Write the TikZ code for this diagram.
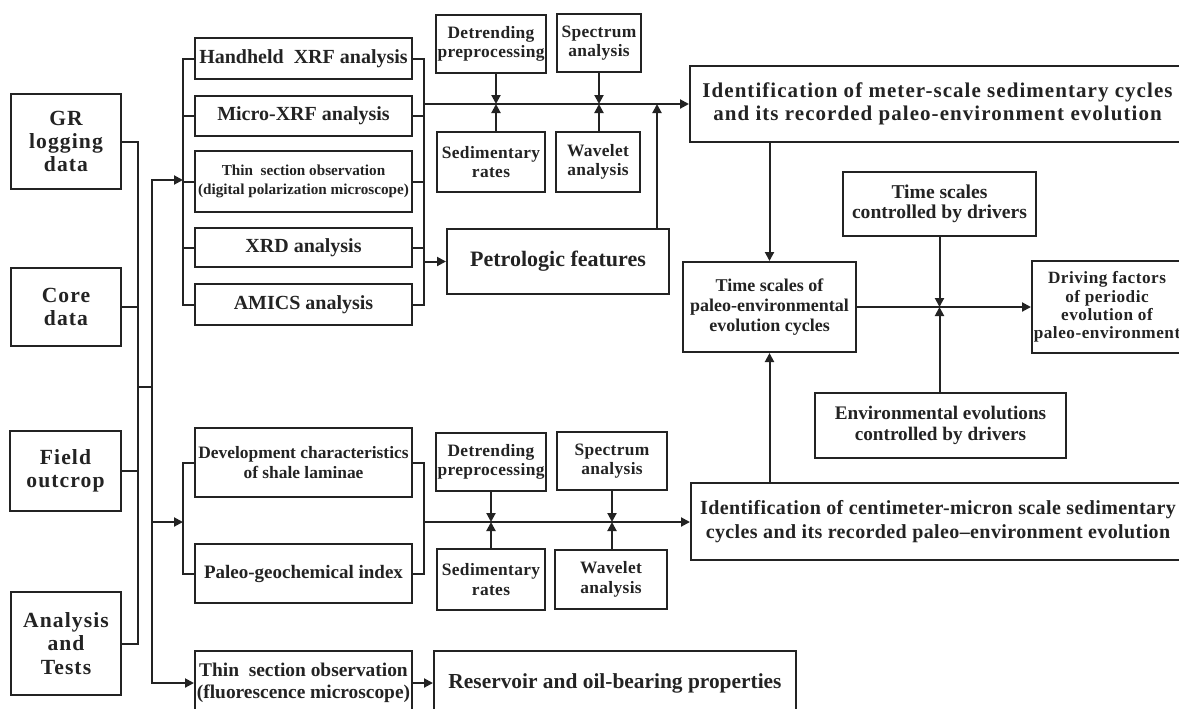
\documentclass[tikz,border=0pt]{standalone}
\usepackage{fontspec}
\setmainfont{Liberation Serif}
\usetikzlibrary{arrows.meta,calc}
\definecolor{ink}{RGB}{35,35,35}
\newcommand\mybox[7][]{\node[box,#1,minimum width={(#5-#3)*0.5pt},minimum height={(#6-#4)*0.5pt}] (#2) at ({(#3+#5)/2},{(#4+#6)/2}) {#7};}
\tikzset{
  box/.style={draw=ink,text=ink,line width=1pt,inner sep=0pt,align=center,font=\bfseries\fontsize{10}{12}\selectfont},
  fleft/.style={font=\bfseries\fontsize{10.8}{11.7}\selectfont\addfontfeatures{LetterSpace=5}},
  fsmall/.style={font=\bfseries\fontsize{8.7}{9.7}\selectfont\addfontfeatures{LetterSpace=2}},
  fid/.style={font=\bfseries\fontsize{10.5}{11.7}\selectfont\addfontfeatures{LetterSpace=5}},
  fidb/.style={font=\bfseries\fontsize{10}{11.7}\selectfont\addfontfeatures{LetterSpace=2}},
  ln/.style={draw=ink,line width=1pt},
  arr/.style={ln,-{Triangle[length=4.5pt,width=4.5pt]}},
}
\begin{document}
\begin{tikzpicture}[x=0.5pt,y=-0.5pt]
\useasboundingbox (0,0) rectangle (1179,708);
\clip (0,0) rectangle (1179,708);
% left sources
\mybox[fleft]{gr}{11}{94}{121}{189}{GR\\logging\\data}
\mybox[fleft]{core}{11}{268}{121}{346}{Core\\data}
\mybox[fleft]{field}{10}{431}{121}{511}{Field\\outcrop}
\mybox[fleft]{anal}{11}{592}{121}{695}{Analysis\\and\\Tests}
% top group
\mybox{hand}{195}{38}{412}{79}{Handheld\ \ XRF analysis}
\mybox{micro}{195}{96}{412}{136}{Micro-XRF analysis}
\mybox[font=\bfseries\fontsize{7.6}{9.8}\selectfont]{thin}{195}{151}{412}{212}{Thin\ \ section observation\\(digital polarization microscope)}
\mybox{xrd}{195}{228}{412}{267}{XRD analysis}
\mybox{amics}{195}{284}{412}{325}{AMICS analysis}
\mybox[fsmall]{det1}{436}{15}{546}{73}{Detrending\\preprocessing}
\mybox[fsmall]{spec1}{557}{14}{641}{72}{Spectrum\\analysis}
\mybox[fsmall]{sed1}{437}{132}{545}{192}{Sedimentary\\rates}
\mybox[fsmall]{wav1}{556}{132}{640}{192}{Wavelet\\analysis}
\mybox[font=\bfseries\fontsize{11}{13}\selectfont]{petro}{447}{229}{669}{294}{Petrologic features}
\mybox[fid]{id1}{690}{66}{1185}{142}{Identification of meter-scale sedimentary cycles\\and its recorded paleo-environment evolution}
% right part
\mybox[font=\bfseries\fontsize{9}{10}\selectfont]{ts}{683}{262}{856}{352}{Time scales of\\paleo-environmental\\evolution cycles}
\mybox[font=\bfseries\fontsize{9.8}{10.3}\selectfont]{tsd}{843}{172}{1036}{236}{Time scales\\controlled by drivers}
\mybox[font=\bfseries\fontsize{8.6}{9.2}\selectfont\addfontfeatures{LetterSpace=3}]{drive}{1032}{261}{1182}{353}{Driving factors\\of periodic\\evolution of\\paleo-environment}
\mybox[font=\bfseries\fontsize{9.6}{10.5}\selectfont]{env}{815}{393}{1066}{458}{Environmental evolutions\\controlled by drivers}
% bottom group
\mybox[font=\bfseries\fontsize{8.7}{10}\selectfont]{dev}{195}{428}{412}{497}{Development characteristics\\of shale laminae}
\mybox[font=\bfseries\fontsize{9.5}{11}\selectfont]{paleo}{195}{544}{412}{603}{Paleo-geochemical index}
\mybox[fsmall]{det2}{436}{433}{546}{491}{Detrending\\preprocessing}
\mybox[fsmall]{spec2}{557}{432}{667}{490}{Spectrum\\analysis}
\mybox[fsmall]{sed2}{437}{549}{545}{610}{Sedimentary\\rates}
\mybox[fsmall]{wav2}{555}{550}{667}{609}{Wavelet\\analysis}
\mybox[fidb]{id2}{691}{483}{1185}{560}{Identification of centimeter-micron scale sedimentary\\cycles and its recorded paleo–environment evolution}
\mybox[font=\bfseries\fontsize{9.7}{10.8}\selectfont]{fluor}{195}{651}{412}{715}{Thin\ \ section observation\\(fluorescence microscope)}
\mybox[font=\bfseries\fontsize{10.7}{12}\selectfont]{res}{434}{651}{796}{715}{Reservoir and oil-bearing properties}
% trunk
\coordinate (t1) at (138,387);
\coordinate (t2) at (152,387);
\coordinate (b1) at (183,180);
\coordinate (b2) at (183,522);
\coordinate (r1) at (424,104);
\coordinate (r2) at (424,522);
\draw[ln] (gr.east) -| (t1);
\draw[ln] (core.east) -| (t1);
\draw[ln] (field.east) -| (t1);
\draw[ln] (anal.east) -| (t1);
\draw[ln] (t1) -- (t2);
\draw[arr] (t2) |- (b1);
\draw[arr] (t2) |- (b2);
\draw[arr] (t2) |- (fluor.west);
% top brackets
\draw[ln] (hand.west) -| (b1);
\draw[ln] (amics.west) -| (b1);
\draw[ln] (micro.west) -- (micro.west -| b1);
\draw[ln] (thin.west) -- (thin.west -| b1);
\draw[ln] (xrd.west) -- (xrd.west -| b1);
\draw[ln] (hand.east) -| (r1);
\draw[ln] (amics.east) -| (r1);
\draw[ln] (micro.east) -- (micro.east -| r1);
\draw[ln] (thin.east) -- (thin.east -| r1);
\draw[ln] (xrd.east) -- (xrd.east -| r1);
\draw[arr] (r1) -- (id1.west);
\draw[arr] (petro.west -| r1) -- (petro.west);
\draw[arr] ([xshift=2.5pt]det1.south) -- ([xshift=2.5pt]det1.south |- r1);
\draw[arr] ([xshift=2.5pt]sed1.north) -- ([xshift=2.5pt]sed1.north |- r1);
\draw[arr] (spec1.south) -- (spec1.south |- r1);
\draw[arr] (spec1.south |- wav1.north) -- (spec1.south |- r1);
\coordinate (pu) at ($(petro.north east)+(-13,0)$);
\draw[arr] (pu) -- (pu |- r1);
% right part
\draw[arr] (id1.south -| ts.north) -- (ts.north);
\draw[arr] (ts.east) -- (drive.west);
\draw[arr] (tsd.south) -- (tsd.south |- ts.east);
\draw[arr] (env.north -| tsd.south) -- (tsd.south |- ts.east);
\draw[arr] (id2.north -| ts.south) -- (ts.south);
% bottom brackets
\draw[ln] (dev.west) -| (b2);
\draw[ln] (paleo.west) -| (b2);
\draw[ln] (dev.east) -| (r2);
\draw[ln] (paleo.east) -| (r2);
\draw[arr] (r2) -- (r2 -| id2.west);
\draw[arr] (det2.south) -- (det2.south |- r2);
\draw[arr] (sed2.north -| det2.south) -- (det2.south |- r2);
\draw[arr] (spec2.south) -- (spec2.south |- r2);
\draw[arr] (wav2.north -| spec2.south) -- (spec2.south |- r2);
\draw[arr] (fluor.east) -- (res.west);
\end{tikzpicture}
\end{document}
